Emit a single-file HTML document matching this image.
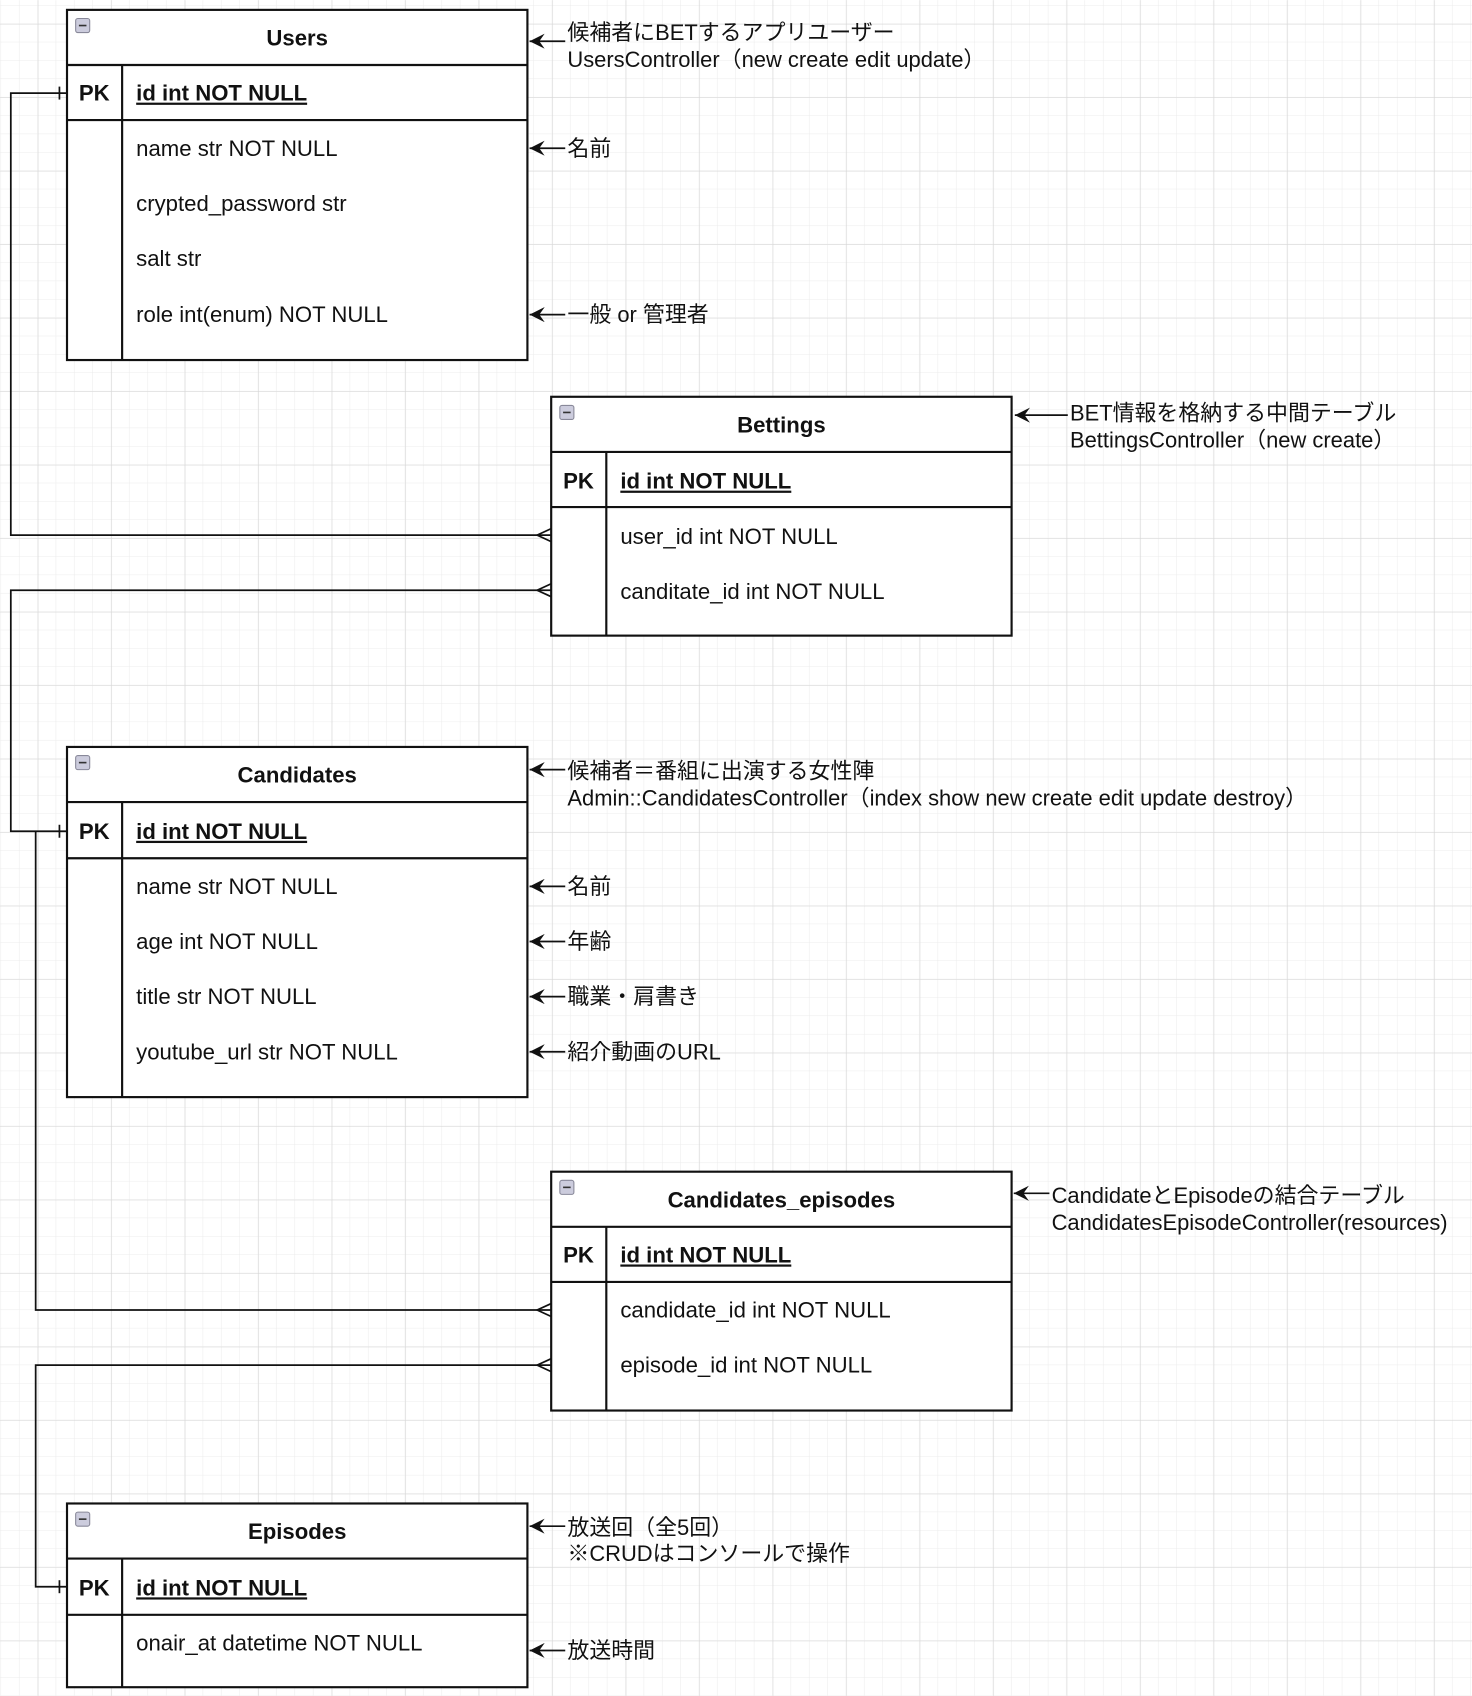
<!DOCTYPE html>
<html><head><meta charset="utf-8"><style>
html,body{margin:0;padding:0;background:#fff}
svg{display:block}
text{font-family:"Liberation Sans","Noto Sans CJK JP",sans-serif;fill:#111}
.t{font-size:20.5px;font-weight:bold}
.a{font-size:20.3px}
.n{font-size:20.5px}
.b{fill:#fff;stroke:#111;stroke-width:2}
.l{stroke:#111;stroke-width:2;fill:none}
.c{stroke:#111;stroke-width:1.6;fill:none}
</style></head><body>
<svg width="1472" height="1696" viewBox="0 0 1362 1569" xmlns="http://www.w3.org/2000/svg">
<defs>
<pattern id="minor" width="17" height="17" patternUnits="userSpaceOnUse" x="1" y="5">
<path d="M17 0V17M0 17H17" stroke="#ececec" stroke-width="1" fill="none"/></pattern>
<pattern id="major" width="68" height="68" patternUnits="userSpaceOnUse" x="35" y="22">
<path d="M0 0V68M0 0H68" stroke="#d6d6d6" stroke-width="1" fill="none"/></pattern>
<marker id="arr" markerWidth="15" markerHeight="14" refX="14" refY="7" orient="auto" markerUnits="userSpaceOnUse">
<path d="M0 0L14 7L0 14L5 7Z" fill="#111"/></marker>
</defs>
<rect width="1362" height="1569" fill="url(#minor)"/>
<rect width="1362" height="1569" fill="url(#major)"/>

<path class="c" d="M62 86H10V495H510"/>
<path class="c" d="M55 80V92"/>
<path class="c" d="M510 489L497 495L510 501"/>
<path class="c" d="M510 546H10V769H62"/>
<path class="c" d="M510 540L497 546L510 552"/>
<path class="c" d="M55 763V775"/>
<path class="c" d="M33 769V1212H510"/>
<path class="c" d="M510 1206L497 1212L510 1218"/>
<path class="c" d="M510 1263H33V1468H62"/>
<path class="c" d="M510 1257L497 1263L510 1269"/>
<path class="c" d="M55 1462V1474"/>

<g>
<rect class="b" x="62" y="9" width="426" height="324"/>
<path class="l" d="M62 60H488M62 111H488M113 60V333"/>
<rect x="70" y="17" width="13" height="13" rx="2" fill="#ccd" stroke="#889" stroke-width="1"/><path d="M73 23.5H80" stroke="#333" stroke-width="1.5"/>
<text class="t" x="275" y="42" text-anchor="middle">Users</text>
<text class="t" x="73" y="93">PK</text>
<text class="t" x="126" y="93" text-decoration="underline">id int NOT NULL</text>
<text class="n" x="126" y="144">name str NOT NULL</text>
<text class="n" x="126" y="195">crypted_password str</text>
<text class="n" x="126" y="246">salt str</text>
<text class="n" x="126" y="298">role int(enum) NOT NULL</text>
</g>

<g>
<rect class="b" x="510" y="367" width="426" height="221"/>
<path class="l" d="M510 418H936M510 469H936M561 418V588"/>
<rect x="518" y="375" width="13" height="13" rx="2" fill="#ccd" stroke="#889" stroke-width="1"/><path d="M521 381.5H528" stroke="#333" stroke-width="1.5"/>
<text class="t" x="723" y="400" text-anchor="middle">Bettings</text>
<text class="t" x="521" y="452">PK</text>
<text class="t" x="574" y="452" text-decoration="underline">id int NOT NULL</text>
<text class="n" x="574" y="503">user_id int NOT NULL</text>
<text class="n" x="574" y="554">canditate_id int NOT NULL</text>
</g>

<g>
<rect class="b" x="62" y="691" width="426" height="324"/>
<path class="l" d="M62 742H488M62 794H488M113 742V1015"/>
<rect x="70" y="699" width="13" height="13" rx="2" fill="#ccd" stroke="#889" stroke-width="1"/><path d="M73 705.5H80" stroke="#333" stroke-width="1.5"/>
<text class="t" x="275" y="724" text-anchor="middle">Candidates</text>
<text class="t" x="73" y="776">PK</text>
<text class="t" x="126" y="776" text-decoration="underline">id int NOT NULL</text>
<text class="n" x="126" y="827">name str NOT NULL</text>
<text class="n" x="126" y="878">age int NOT NULL</text>
<text class="n" x="126" y="929">title str NOT NULL</text>
<text class="n" x="126" y="980">youtube_url str NOT NULL</text>
</g>

<g>
<rect class="b" x="510" y="1084" width="426" height="221"/>
<path class="l" d="M510 1135H936M510 1186H936M561 1135V1305"/>
<rect x="518" y="1092" width="13" height="13" rx="2" fill="#ccd" stroke="#889" stroke-width="1"/><path d="M521 1098.5H528" stroke="#333" stroke-width="1.5"/>
<text class="t" x="723" y="1117" text-anchor="middle">Candidates_episodes</text>
<text class="t" x="521" y="1168">PK</text>
<text class="t" x="574" y="1168" text-decoration="underline">id int NOT NULL</text>
<text class="n" x="574" y="1219">candidate_id int NOT NULL</text>
<text class="n" x="574" y="1270">episode_id int NOT NULL</text>
</g>

<g>
<rect class="b" x="62" y="1391" width="426" height="170"/>
<path class="l" d="M62 1442H488M62 1494H488M113 1442V1561"/>
<rect x="70" y="1399" width="13" height="13" rx="2" fill="#ccd" stroke="#889" stroke-width="1"/><path d="M73 1405.5H80" stroke="#333" stroke-width="1.5"/>
<text class="t" x="275" y="1424" text-anchor="middle">Episodes</text>
<text class="t" x="73" y="1476">PK</text>
<text class="t" x="126" y="1476" text-decoration="underline">id int NOT NULL</text>
<text class="n" x="126" y="1527">onair_at datetime NOT NULL</text>
</g>

<g>
<path class="c" d="M523 38H490" marker-end="url(#arr)"/>
<text class="a" x="525" y="37">候補者にBETするアプリユーザー</text>
<text class="a" x="525" y="62">UsersController（new create edit update）</text>
<path class="c" d="M523 137H490" marker-end="url(#arr)"/>
<text class="a" x="525" y="144">名前</text>
<path class="c" d="M523 291H490" marker-end="url(#arr)"/>
<text class="a" x="525" y="298">一般 or 管理者</text>
<path class="c" d="M988 384H939" marker-end="url(#arr)"/>
<text class="a" x="990" y="389">BET情報を格納する中間テーブル</text>
<text class="a" x="990" y="414">BettingsController（new create）</text>
<path class="c" d="M523 712H490" marker-end="url(#arr)"/>
<text class="a" x="525" y="720">候補者＝番組に出演する女性陣</text>
<text class="a" x="525" y="745">Admin::CandidatesController（index show new create edit update destroy）</text>
<path class="c" d="M523 820H490" marker-end="url(#arr)"/>
<text class="a" x="525" y="827">名前</text>
<path class="c" d="M523 871H490" marker-end="url(#arr)"/>
<text class="a" x="525" y="878">年齢</text>
<path class="c" d="M523 922H490" marker-end="url(#arr)"/>
<text class="a" x="525" y="929">職業・肩書き</text>
<path class="c" d="M523 973H490" marker-end="url(#arr)"/>
<text class="a" x="525" y="980">紹介動画のURL</text>
<path class="c" d="M971 1104H938" marker-end="url(#arr)"/>
<text class="a" x="973" y="1113">CandidateとEpisodeの結合テーブル</text>
<text class="a" x="973" y="1138">CandidatesEpisodeController(resources)</text>
<path class="c" d="M523 1412H490" marker-end="url(#arr)"/>
<text class="a" x="525" y="1420">放送回（全5回）</text>
<text class="a" x="525" y="1444">※CRUDはコンソールで操作</text>
<path class="c" d="M523 1527H490" marker-end="url(#arr)"/>
<text class="a" x="525" y="1534">放送時間</text>
</g>
</svg>
</body></html>
